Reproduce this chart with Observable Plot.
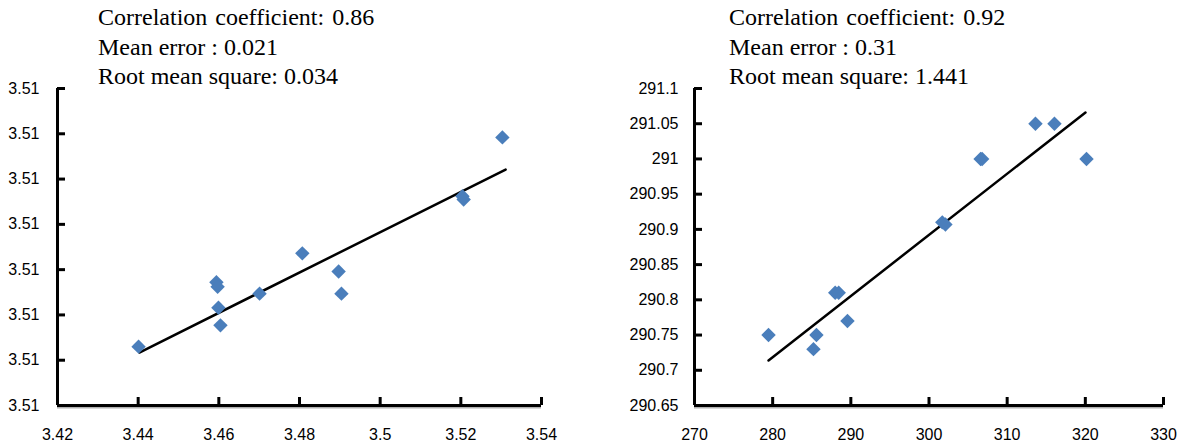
<!DOCTYPE html>
<html><head><meta charset="utf-8">
<script src="https://cdn.jsdelivr.net/npm/d3@7"></script>
<script src="https://cdn.jsdelivr.net/npm/@observablehq/plot@0.6"></script>
<style>
body{margin:0;background:#fff;}
#wrap{position:relative;width:1187px;height:445px;overflow:hidden;background:#fff;}
.panel{position:absolute;top:0;}
.note{position:absolute;top:3px;font-family:"Liberation Serif","Times New Roman",serif;font-size:24px;line-height:29.5px;color:#000;white-space:pre;}
.note .first{word-spacing:2px;}
</style></head><body>
<div id="wrap"></div>
<script>
// ---- Left panel data ----
const leftX = [3.4401, 3.4594, 3.4597, 3.4599, 3.4604, 3.4701, 3.4807, 3.4897, 3.4904, 3.5204, 3.5207, 3.5303];
const leftY = [3.5083, 3.50972, 3.50962, 3.50916, 3.50877, 3.50947, 3.51036, 3.50996, 3.50947, 3.51162, 3.51155, 3.51292];
const leftFitX = [3.4403, 3.5311];
const leftFitY = [3.50817, 3.51221];
const leftXTicks = [3.42, 3.44, 3.46, 3.48, 3.5, 3.52, 3.54];
const leftYTicks = [3.507, 3.508, 3.509, 3.51, 3.511, 3.512, 3.513, 3.514];
const leftNotes = ["Correlation coefficient: 0.86", "Mean error : 0.021", "Root mean square: 0.034"];

// ---- Right panel data ----
const rightX = [279.47, 285.22, 285.6, 288.0, 288.45, 289.57, 301.7, 302.1, 306.6, 306.8, 313.62, 316.05, 320.15];
const rightY = [290.75, 290.73, 290.75, 290.81, 290.81, 290.77, 290.91, 290.907, 291.0, 291.0, 291.05, 291.05, 291.0];
const rightFitX = [279.47, 320.02];
const rightFitY = [290.714, 291.066];
const rightXTicks = [270, 280, 290, 300, 310, 320, 330];
const rightYTicks = [290.65, 290.7, 290.75, 290.8, 290.85, 290.9, 290.95, 291, 291.05, 291.1];
const rightNotes = ["Correlation coefficient: 0.92", "Mean error : 0.31", "Root mean square: 1.441"];

function panel({xs, ys, fitX, fitY, xTicks, yTicks, yFormat, width, marginLeft, marginRight, yPad}) {
  const pts = xs.map((x, i) => ({x, y: ys[i]}));
  const fit = fitX.map((x, i) => ({x, y: fitY[i]}));
  const xDom = [xTicks[0], xTicks[xTicks.length - 1]];
  const yDom = [yTicks[0], yTicks[yTicks.length - 1]];
  return Plot.plot({
    width, height: 445, marginLeft, marginRight, marginTop: 88, marginBottom: 40,
    style: {fontFamily: "'Liberation Sans', Arial, sans-serif", fontSize: "16px", color: "#000", background: "#fff"},
    x: {domain: xDom, label: null},
    y: {domain: yDom, label: null},
    marks: [
      Plot.ruleY([yDom[0]], {stroke: "#b0b0b0", strokeWidth: 2, dy: 2}),
      Plot.ruleX([xDom[0]], {stroke: "#000", strokeWidth: 3}),
      Plot.ruleY([yDom[0]], {stroke: "#000", strokeWidth: 3}),
      Plot.axisX({ticks: xTicks, tickSize: -8, tickPadding: 31, strokeWidth: 3, tickFormat: d => String(d), label: null}),
      Plot.axisY({ticks: yTicks, tickSize: -8, tickPadding: yPad, strokeWidth: 3, tickFormat: yFormat, label: null}),
      Plot.line(fit, {x: "x", y: "y", stroke: "#000", strokeWidth: 2.5}),
      Plot.dot(pts, {x: "x", y: "y", symbol: "diamond2", r: 6.5, fill: "#4a7ebb", stroke: "none"})
    ]
  });
}

const wrap = document.getElementById("wrap");
const left = panel({xs: leftX, ys: leftY, fitX: leftFitX, fitY: leftFitY, xTicks: leftXTicks, yTicks: leftYTicks,
  yFormat: d => d.toFixed(2), width: 594, marginLeft: 57, marginRight: 53, yPad: 26});
left.classList.add("panel"); left.style.left = "0px";
wrap.appendChild(left);
const right = panel({xs: rightX, ys: rightY, fitX: rightFitX, fitY: rightFitY, xTicks: rightXTicks, yTicks: rightYTicks,
  yFormat: d => String(d), width: 593, marginLeft: 100, marginRight: 24, yPad: 24});
right.classList.add("panel"); right.style.left = "594px";
wrap.appendChild(right);

for (const [notes, x] of [[leftNotes, 98], [rightNotes, 729]]) {
  const div = document.createElement("div");
  div.className = "note";
  div.style.left = x + "px";
  notes.forEach((t, i) => {
    const line = document.createElement("div");
    if (i === 0) line.className = "first";
    line.textContent = t;
    div.appendChild(line);
  });
  wrap.appendChild(div);
}
</script>
</body></html>
